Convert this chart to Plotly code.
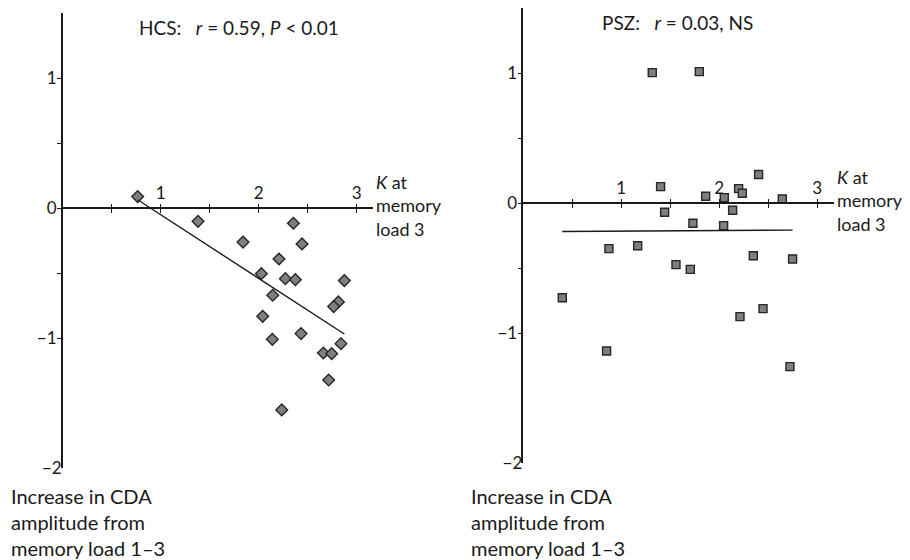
import numpy as np
import plotly.graph_objects as go

# ---- data ----
hcs_k = [0.765, 1.381, 1.84, 2.354, 2.442, 2.207, 2.027, 2.272, 2.374, 2.874, 2.143,
         2.813, 2.765, 2.041, 2.432, 2.139, 2.84, 2.66, 2.745, 2.714, 2.235]
hcs_cda = [0.09, -0.10, -0.26, -0.115, -0.274, -0.39, -0.503, -0.541, -0.549, -0.556, -0.669,
           -0.72, -0.756, -0.831, -0.964, -1.008, -1.041, -1.113, -1.118, -1.321, -1.551]

psz_k = [1.316, 1.796, 2.401, 1.401, 2.197, 2.235, 1.861, 2.051, 2.643, 1.442, 2.136, 1.731,
         2.044, 0.874, 1.167, 2.347, 2.748, 1.558, 1.704, 0.398, 2.446, 2.211, 0.850, 2.721]
psz_cda = [1.005, 1.013, 0.221, 0.128, 0.113, 0.077, 0.054, 0.044, 0.033, -0.069, -0.054, -0.154,
           -0.172, -0.349, -0.326, -0.403, -0.428, -0.472, -0.508, -0.726, -0.81, -0.872, -1.136, -1.256]

x_tick_vals = [0.5, 1, 1.5, 2, 2.5, 3]
x_tick_text = ["", "1", "", "2", "", "3"]
y_tick_vals = [-1, -0.5, 0, 0.5, 1]
y_tick_text = ["\u22121", "", "0", "", "1"]
y_end_vals = [-2, 1.5]
y_end_text = ["\u22122", ""]

titles = ["HCS:\u00a0\u00a0\u00a0<i>r</i> = 0.59, <i>P</i> &lt; 0.01",
          "PSZ:\u00a0\u00a0\u00a0<i>r</i> = 0.03, NS"]
x_label = "<i>K</i> at<br>memory<br>load 3"
y_label = "Increase in CDA<br>amplitude from<br>memory load 1\u20133"

# ---- layout geometry (page pixels; the page body adds an 8px margin) ----
OFF = 8
W, H = 910 - OFF, 560 - OFF
XR = [0, 3.17]
YR = [-2, 1.5]
FONT = "Lato"
INK = "#1a1a1a"
panels = [
    dict(x0=62.7, y0px=208.3, top=13.3, bot=468.3, title_dx=74.0),
    dict(x0=523.3, y0px=203.3, top=8.3, bot=463.3, title_dx=77.0),
]
PX_PER_X = 98.0


def fx(px):
    return (px - OFF) / W


def fy(py):
    return 1 - (py - OFF) / H


fig = go.Figure()


def fit_line(xs, ys):
    xs = np.asarray(xs)
    ys = np.asarray(ys)
    b, a = np.polyfit(xs, ys, 1)
    xx = np.array([xs.min(), xs.max()])
    return xx, a + b * xx


marker_common = dict(color="#7f7f7f", line=dict(color="#262626", width=1.4))

fig.add_trace(go.Scatter(x=hcs_k, y=hcs_cda, mode="markers", xaxis="x", yaxis="y",
                         marker=dict(symbol="diamond", size=9, **marker_common),
                         showlegend=False, hoverinfo="skip"))
lx, ly = fit_line(hcs_k, hcs_cda)
fig.add_trace(go.Scatter(x=lx, y=ly, mode="lines", xaxis="x", yaxis="y",
                         line=dict(color=INK, width=1.4), showlegend=False, hoverinfo="skip"))
fig.add_trace(go.Scatter(x=psz_k, y=psz_cda, mode="markers", xaxis="x2", yaxis="y2",
                         marker=dict(symbol="square", size=8, **marker_common),
                         showlegend=False, hoverinfo="skip"))
rx, ry = fit_line(psz_k, psz_cda)
fig.add_trace(go.Scatter(x=rx, y=ry, mode="lines", xaxis="x2", yaxis="y2",
                         line=dict(color=INK, width=1.4), showlegend=False, hoverinfo="skip"))
for xa, ya in [("x3", "y3"), ("x4", "y4")]:
    fig.add_trace(go.Scatter(x=[None], y=[None], xaxis=xa, yaxis=ya, mode="markers",
                             showlegend=False, hoverinfo="skip"))

layout = dict(width=W, height=H, margin=dict(l=0, r=0, t=0, b=0, autoexpand=False),
              paper_bgcolor="white", plot_bgcolor="rgba(0,0,0,0)",
              font=dict(family=FONT, color=INK), annotations=[])

tickfont = dict(family=FONT, size=17, color=INK)
for i, p in enumerate(panels):
    xd = [fx(p["x0"]), fx(p["x0"] + XR[1] * PX_PER_X)]
    yd = [fy(p["bot"]), fy(p["top"])]
    xpos = fy(p["y0px"])
    main_x = "xaxis" if i == 0 else "xaxis2"
    main_y = "yaxis" if i == 0 else "yaxis2"
    ov_x = "xaxis3" if i == 0 else "xaxis4"
    ov_y = "yaxis3" if i == 0 else "yaxis4"
    xref = "x" if i == 0 else "x2"
    yref = "y" if i == 0 else "y2"
    layout[main_x] = dict(domain=xd, range=XR, anchor="free", position=xpos, side="top",
                          showline=True, linecolor=INK, linewidth=1.5, showgrid=False,
                          zeroline=False, ticks="outside", ticklen=4, tickwidth=1.3,
                          tickcolor=INK, tickvals=x_tick_vals, ticktext=x_tick_text,
                          tickfont=tickfont, ticklabelstandoff=-2,
                          fixedrange=True, automargin=False)
    layout[ov_x] = dict(domain=xd, range=XR, anchor="free", position=xpos, side="bottom",
                        overlaying=xref, showline=False, showgrid=False, zeroline=False,
                        ticks="outside", ticklen=4, tickwidth=1.3, tickcolor=INK,
                        tickvals=x_tick_vals, showticklabels=False, fixedrange=True,
                        automargin=False)
    layout[main_y] = dict(domain=yd, range=YR, anchor=xref, side="left",
                          showline=True, linecolor=INK, linewidth=1.5, showgrid=False,
                          zeroline=False, ticks="outside", ticklen=4, tickwidth=1.3,
                          tickcolor=INK, tickvals=y_tick_vals, ticktext=y_tick_text,
                          tickfont=tickfont, ticklabelstandoff=-3,
                          fixedrange=True, automargin=False)
    layout[ov_y] = dict(domain=yd, range=YR, anchor=xref, side="left", overlaying=yref,
                        showline=False, showgrid=False, zeroline=False,
                        ticks="inside", ticklen=5, tickwidth=1.3, tickcolor=INK,
                        tickvals=y_end_vals, ticktext=y_end_text, tickfont=tickfont,
                        fixedrange=True, automargin=False)
    layout["annotations"].append(dict(
        text=titles[i], xref="paper", yref="paper",
        x=fx(p["x0"] + p["title_dx"]), y=fy(p["y0px"] - 181.0),
        xanchor="left", yanchor="middle", showarrow=False,
        font=dict(family=FONT, size=19, color=INK)))
    layout["annotations"].append(dict(
        text=x_label, xref="paper", yref="paper", align="left",
        x=xd[1], y=fy(p["y0px"] - 2.5), xshift=1,
        xanchor="left", yanchor="middle", showarrow=False,
        font=dict(family=FONT, size=18, color=INK)))
    layout["annotations"].append(dict(
        text=y_label, xref="paper", yref="paper", align="left",
        x=fx(p["x0"] - 54.0), y=fy(521.7),
        xanchor="left", yanchor="middle", showarrow=False,
        font=dict(family=FONT, size=20, color=INK)))

fig.update_layout(**layout)
fig.write_html("out.html")
